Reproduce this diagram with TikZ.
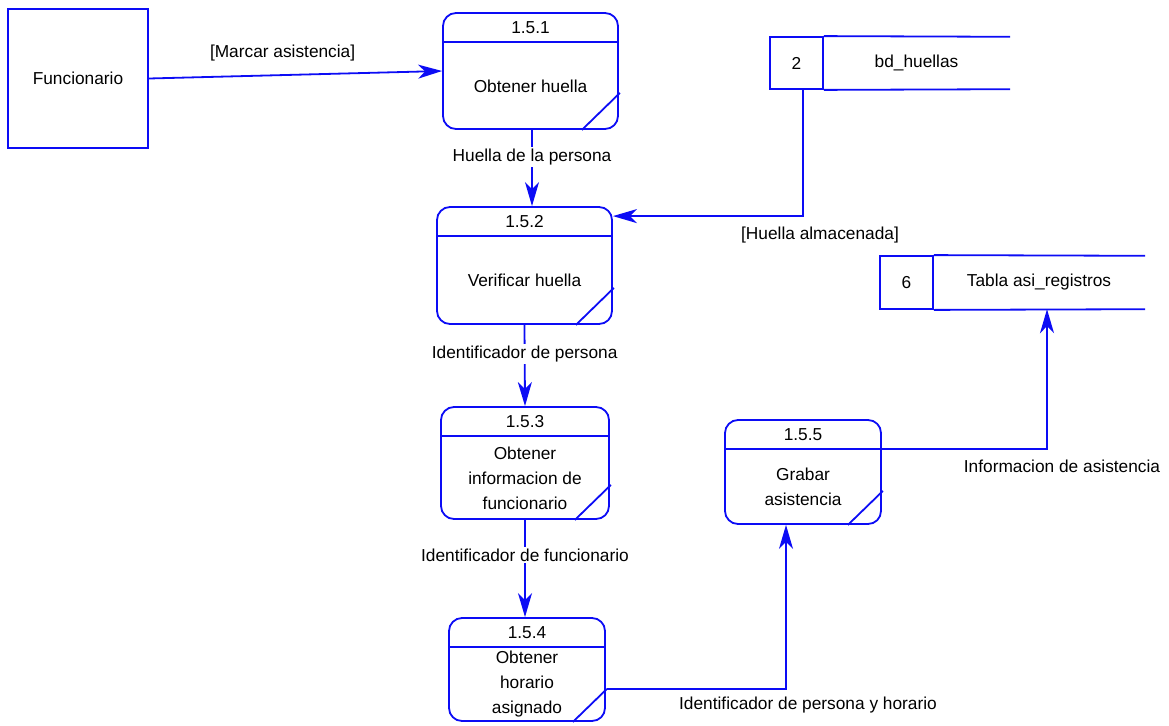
\documentclass[tikz,border=0pt]{standalone}
\usepackage{fontspec}
\setmainfont{Liberation Sans}
\usetikzlibrary{arrows.meta}
\definecolor{dfdblue}{RGB}{12,12,245}
\tikzset{
  every node/.style={font=\fontsize{17.3}{25}\selectfont, text=black},
  proc/.style={draw=dfdblue, line width=1.8pt, rounded corners=13pt, inner sep=0pt},
  ext/.style={draw=dfdblue, line width=1.8pt, inner sep=0pt},
  edge/.style={draw=dfdblue, line width=1.8pt},
  flow/.style={draw=dfdblue, line width=1.8pt, -{Stealth[length=24pt,width=14pt,inset=7pt]}},
  lbl/.style={fill=white, inner sep=2pt},
}
% process box: name, left, top, right, bottom, id, text, corner-cut size
\newcommand\dfdproc[8]{%
  \node[proc, minimum width={(#4-#2)*1pt}, minimum height={(#5-#3)*1pt}]
    (#1) at ({(#2+#4)/2},{(#3+#5)/2}) {};
  \draw[edge] ([yshift=-30pt]#1.north west) -- ([yshift=-30pt]#1.north east);
  \draw[edge] ([xshift=-#8pt]#1.south east) -- ([xshift=1pt,yshift=#8pt]#1.south east)
    coordinate (#1c);
  \node (#1t) at ({(#2+#4)/2},{#3+15}) {#6};
  \node[align=center] (#1b) at ({(#2+#4)/2},{(#3+30+#5)/2}) {#7};
}
% data store: name, left, top, divider, right, bottom, number, text
\newcommand\dfdstore[8]{%
  \node[ext, minimum width={(#4-#2)*1pt}, minimum height={(#6-#3)*1pt}]
    (#1n) at ({(#2+#4)/2},{(#3+#6)/2}) {#7};
  \node[inner sep=0pt, minimum width={(#5-#4)*1pt}, minimum height={(#6-#3)*1pt}]
    (#1t) at ({(#4+#5)/2},{(#3+#6)/2}) {#8};
  \draw[edge] (#1n.north east) -- (#1t.north east);
  \draw[edge] (#1n.south east) -- (#1t.south east);
}
\begin{document}
\begin{tikzpicture}[x=1pt,y=-1pt]
\useasboundingbox (0,0) rectangle (1169,725);

% external entity
\node[ext, minimum width=140pt, minimum height=139pt] (fun) at (78,78.5) {Funcionario};

% processes
\dfdproc{p1}{443}{13}{618}{129}{1.5.1}{Obtener huella}{37}
\dfdproc{p2}{437}{207}{612}{324}{1.5.2}{Verificar huella}{37}
\dfdproc{p3}{441}{407}{609}{519}{1.5.3}{Obtener\\informacion de\\funcionario}{35}
\dfdproc{p4}{449}{618}{605}{721}{1.5.4}{Obtener\\horario\\asignado}{33}
\dfdproc{p5}{725}{420}{881}{524}{1.5.5}{Grabar\\asistencia}{34}

% data stores
\dfdstore{s2}{770}{37}{823}{1010}{89}{2}{bd\_huellas}
\dfdstore{s6}{880}{256}{933}{1145}{309}{6}{Tabla asi\_registros}

% data flows
\draw[flow] (fun.east) -- node[pos=0.456, yshift=22pt] {[Marcar asistencia]} (p1.west);
\draw[flow] ([xshift=1.5pt]p1.south) -- node[lbl, pos=0.35] {Huella de la persona}
  ([xshift=1.5pt]p1.south |- p2.north);
\draw[flow] ([xshift=6.5pt]s2n.south) |- node[pos=0.5, xshift=17pt, yshift=-19pt] {[Huella almacenada]}
  ([yshift=-10pt]p2.north east);
\draw[flow] (p2.south) -- node[lbl, pos=0.36] {Identificador de persona} (p3.north);
\draw[flow] (p3.south) -- node[lbl, pos=0.36] {Identificador de funcionario}
  (p3.south |- p4.north);
\draw[flow] (p4c) -| node[pos=0.5, xshift=22pt, yshift=-16pt] {Identificador de persona y horario}
  ([xshift=-17pt]p5.south);
\draw[flow] ([yshift=-30pt]p5.north east) -| node[pos=0.5, xshift=15pt, yshift=-17pt] {Informacion de asistencia}
  ([xshift=8pt]s6t.south);
\end{tikzpicture}
\end{document}
